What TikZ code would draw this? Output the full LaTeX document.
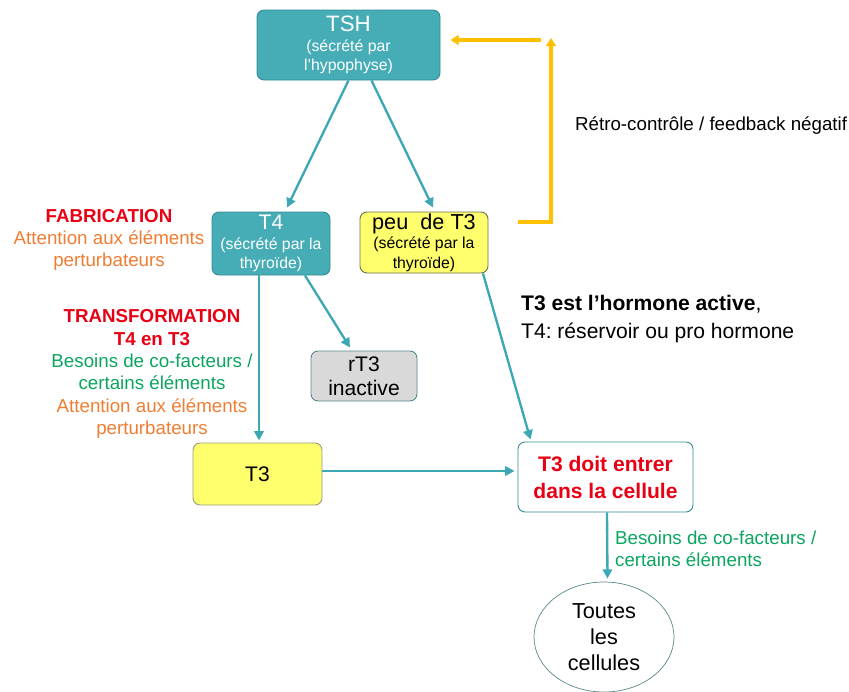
\documentclass[tikz,border=0pt]{standalone}
\usepackage{fontspec}
\setmainfont{Liberation Sans}
\usetikzlibrary{arrows.meta,calc,shapes.geometric}
\definecolor{boxteal}{RGB}{70,172,182}
\definecolor{boxtealdark}{RGB}{52,140,150}
\definecolor{arrowteal}{RGB}{60,168,180}
\definecolor{hormyellow}{RGB}{255,255,110}
\definecolor{hormyellowdark}{RGB}{110,110,80}
\definecolor{inactgray}{RGB}{217,217,217}
\definecolor{fbyellow}{RGB}{255,192,0}
\definecolor{alertred}{RGB}{232,0,20}
\definecolor{warnorange}{RGB}{240,125,50}
\definecolor{needgreen}{RGB}{10,165,95}
\frenchspacing
\tikzset{
  flow/.style={draw=arrowteal,line width=2pt,-{Triangle[length=8pt,width=8pt]}},
  feedback/.style={draw=fbyellow,line width=2.6pt,-{Triangle[length=7pt,width=8.5pt]}},
  titlefont/.style={font=\fontsize{18}{20.5}\selectfont},
  subfont/.style={font=\fontsize{13.5}{16.5}\selectfont},
}
\begin{document}
\begin{tikzpicture}[x=0.03cm,y=-0.03cm]
        \useasboundingbox (0,0) rectangle (849,691);
        \begin{scope}[every node/.style={rectangle,rounded corners=6pt,draw,line width=0.8pt,align=center,inner sep=1pt}]
          \node[fill=boxteal,draw=boxtealdark,text=white,minimum width=5.49cm,minimum height=2.1cm,subfont] (TSH) at (348.5,45)
            {{\fontsize{19}{20}\selectfont TSH}\\ (sécrété par\\ l'hypophyse)};
          \node[fill=boxteal,draw=boxtealdark,text=white,minimum width=3.54cm,minimum height=1.89cm,subfont] (T4) at (271,243.5)
            {{\fontsize{18}{20}\selectfont T4}\\ (sécrété par la\\ thyroïde)};
          \node[fill=hormyellow,draw=hormyellowdark,minimum width=3.84cm,minimum height=1.83cm,subfont] (Peu) at (424,242.5)
            {{\fontsize{18.5}{20}\selectfont peu\ \ de T3}\\ (sécrété par la\\ thyroïde)};
          \node[fill=inactgray,draw=boxtealdark!60!gray,minimum width=3.18cm,minimum height=1.5cm,titlefont] (rT3) at (364,376)
            {rT3\\ inactive};
          \node[fill=hormyellow,draw=hormyellowdark!70,minimum width=3.87cm,minimum height=1.86cm,titlefont] (T3) at (257.5,474)
            {T3};
          \node[fill=white,draw=boxtealdark,minimum width=5.25cm,minimum height=2.1cm,text=alertred,font=\fontsize{18}{23}\selectfont\bfseries] (Doit) at (605.5,477)
            {T3 doit entrer\\ dans la cellule};
          \node[ellipse,rounded corners=0pt,draw=boxtealdark!50!gray,line width=0.6pt,minimum width=4.2cm,minimum height=3.3cm,font=\fontsize{18.5}{22}\selectfont] (Cells) at (604,637)
            {Toutes\\ les\\ cellules};
        \end{scope}
        \begin{scope}[every node/.style={align=center,font=\fontsize{16}{19}\selectfont}]
          \node (Fab) at (109,240)
            {\textcolor{alertred}{\bfseries FABRICATION}\\ \textcolor{warnorange}{Attention aux éléments}\\ \textcolor{warnorange}{perturbateurs}};
          \node (Transf) at (152,374)
            {\textcolor{alertred}{\bfseries TRANSFORMATION}\\ \textcolor{alertred}{\bfseries T4 en T3}\\
             \textcolor{needgreen}{Besoins de co-facteurs /}\\ \textcolor{needgreen}{certains éléments}\\
             \textcolor{warnorange}{Attention aux éléments}\\ \textcolor{warnorange}{perturbateurs}};
          \node[anchor=west] (Retro) at (571,126) {Rétro-contrôle / feedback négatif};
          \node[anchor=west,align=left,font=\fontsize{18}{24}\selectfont] (Active) at (517,319)
            {\textbf{T3 est l’hormone active},\\ T4: réservoir ou pro hormone};
          \node[anchor=west,align=left,text=needgreen] (Needs) at (611,549)
            {Besoins de co-facteurs /\\ certains éléments};
        \end{scope}
        % teal arrows
        \draw[flow] (TSH.south) -- ($(T4.north)+(16,-4)$);
        \draw[flow] ($(TSH.south)+(23,0)$) -- ($(Peu.north)+(9,-4)$);
        \draw[flow] ($(T4.south)+(-12,0)$) -- ($(T3.north)+(1.5,-2)$);
        \draw[flow] ($(T4.south)+(34,0)$) -- ($(rT3.north)+(-14,-3)$);
        \draw[flow] ($(Peu.south)+(59,0)$) -- ($(Doit.north)+(-75,-2)$);
        \draw[flow] ($(T3.east)+(0,-3)$) -- ($(Doit.west)+(-3,-6)$);
        \draw[flow] ($(Doit.south)+(1.5,0)$) -- ($(Cells.north)+(3.5,-3)$);
        % feedback loop
        \coordinate (fbin) at (518,222);
        \coordinate (fbtop) at (551,38);
        \coordinate (fbout) at (541,40);
        \draw[feedback] (fbin) -| (fbtop);
        \draw[feedback] (fbout) -- ($(TSH.east)+(10,-5)$);
\end{tikzpicture}
\end{document}
